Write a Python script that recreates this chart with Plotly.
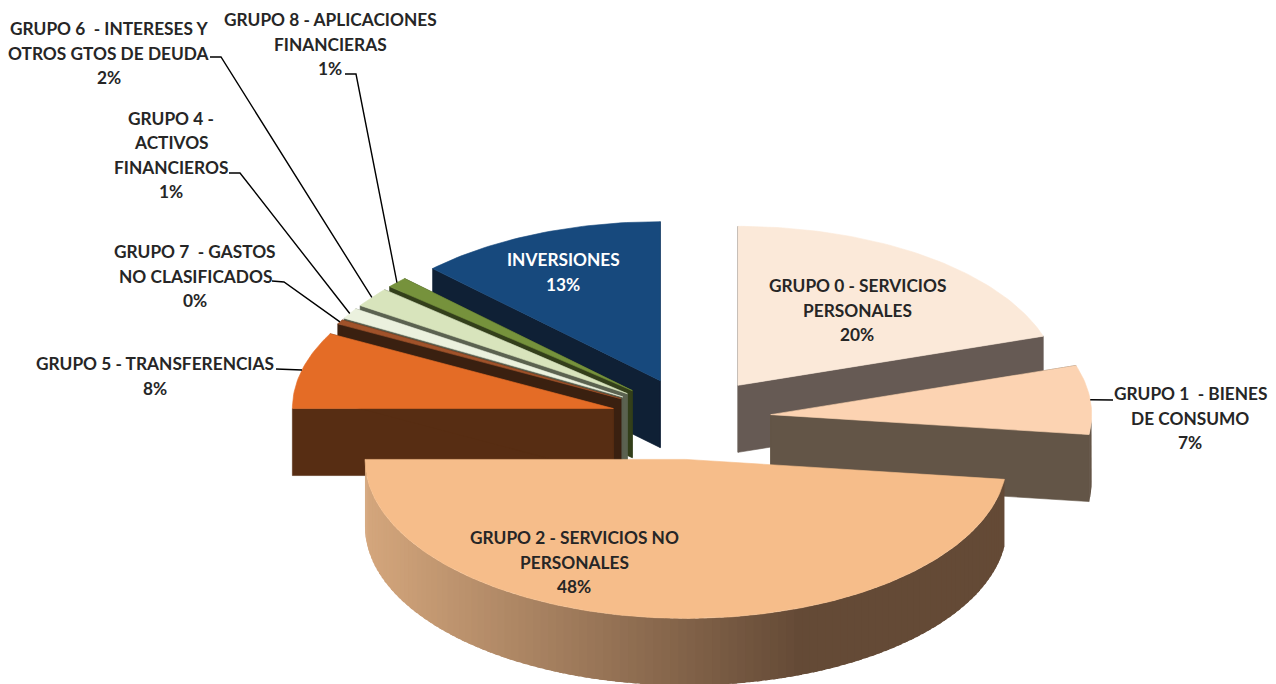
import math
import plotly.graph_objects as go

# --- data ---
categories = ["GRUPO 0 - SERVICIOS PERSONALES", "GRUPO 1  - BIENES DE CONSUMO",
              "GRUPO 2 - SERVICIOS NO PERSONALES", "GRUPO 5 - TRANSFERENCIAS",
              "GRUPO 7  - GASTOS NO CLASIFICADOS", "GRUPO 4 - ACTIVOS FINANCIEROS",
              "GRUPO 6  - INTERESES Y OTROS GTOS DE DEUDA", "GRUPO 8 - APLICACIONES FINANCIERAS",
              "INVERSIONES"]
values = [20, 7, 48, 7.8, 0.45, 1.1, 2, 1.1, 12.55]
label_lines = [["GRUPO 0 - SERVICIOS", "PERSONALES"], ["GRUPO 1  - BIENES", "DE CONSUMO"],
               ["GRUPO 2 - SERVICIOS NO", "PERSONALES"], ["GRUPO 5 - TRANSFERENCIAS"],
               ["GRUPO 7  - GASTOS", "NO CLASIFICADOS"], ["GRUPO 4 -", "ACTIVOS", "FINANCIEROS"],
               ["GRUPO 6  - INTERESES Y", "OTROS GTOS DE DEUDA"], ["GRUPO 8 - APLICACIONES", "FINANCIERAS"],
               ["INVERSIONES"]]

# --- styles and layout ---
top_colors = ["#fbe9d9", "#fcd3b2", "#f6bd8a", "#e46c26", "#a0522a", "#ebf1de", "#d8e4bc", "#76923c", "#17497d"]
side_colors = ["#665a54", "#635547", "#654a36", "#572d13", "#3a2010", "#5a6050", "#5b6250", "#333f1a", "#0f2035"]
paint_order = [8, 7, 6, 5, 4, 3, 0, 1, 2]
label_pos = [(857, 310), (1190, 418), (574, 562), (155, 376), (195, 276), (171, 155), (109, 53), (330, 44), (563, 272)]
elbows = {1: [(1113, 400)], 3: [(276, 369)], 4: [(272, 281), (284, 282)], 5: [(229, 173), (240, 173)],
          6: [(210, 57), (221, 57)], 7: [(345, 74), (356, 74)]}
CX, CY, RX, RY, EXPLODE_X, EXPLODE_Y, DEPTH = 691, 418.5, 321, 159, 80, 41, 67
FONT_SIZE, LINE_STEP = 17.3, 24.4
FRONT_SLICE = 2  # its cut faces are hidden behind its own top


def pt(apex, deg, rx=RX, ry=RY):
    a = math.radians(deg)
    return apex[0] + rx * math.sin(a), apex[1] - ry * math.cos(a)


def poly(fig, pts, color, name, width=0.6):
    xs = [p[0] for p in pts] + [pts[0][0]]
    ys = [p[1] for p in pts] + [pts[0][1]]
    fig.add_trace(go.Scatter(x=xs, y=ys, mode="lines", fill="toself", fillcolor=color,
                             line=dict(color=color, width=width), name=name, hoverinfo="skip", showlegend=False))


def mix(c1, c2, t):
    a = [int(c1[i:i + 2], 16) for i in (1, 3, 5)]
    b = [int(c2[i:i + 2], 16) for i in (1, 3, 5)]
    return "rgb(%d,%d,%d)" % tuple(round(u + (v - u) * t) for u, v in zip(a, b))


# angles come from the values
total = sum(values)
starts, ends = [], []
acc = 0
for v in values:
    starts.append(acc / total * 360)
    acc += v
    ends.append(acc / total * 360)
apexes = []
for s, e in zip(starts, ends):
    apexes.append(pt((CX, CY), (s + e) / 2, EXPLODE_X, EXPLODE_Y))

fig = go.Figure()
for i in paint_order:
    s, e, ap = starts[i], ends[i], apexes[i]
    # cut faces
    if i != FRONT_SLICE:
        for ang in (s, e):
            o = pt(ap, ang)
            poly(fig, [ap, o, (o[0], o[1] + DEPTH), (ap[0], ap[1] + DEPTH)], side_colors[i], categories[i])
    # rim: each strip overlaps the next one so no seams show
    lo, hi = max(s, 90), min(e, 270)
    if hi > lo:
        n = max(1, int((hi - lo) / 1.5))
        step = (hi - lo) / n
        for k in range(n):
            a0 = lo + step * k
            a1 = min(hi, a0 + step * 1.6)
            steps = 4
            arc = [pt(ap, a0 + (a1 - a0) * j / steps) for j in range(steps + 1)]
            mid = pt(ap, a0 + step / 2)
            col = side_colors[i]
            if i == FRONT_SLICE:
                t = min(1, max(0, (800 - mid[0]) / (800 - 363)))
                col = mix("#644a36", "#d5a77d", t)
            poly(fig, arc + [(q[0], q[1] + DEPTH) for q in reversed(arc)], col, categories[i], width=0)
    # top
    n = max(3, int(e - s))
    arc = [pt(ap, s + (e - s) * k / n) for k in range(n + 1)]
    poly(fig, [ap] + arc, top_colors[i], categories[i])

# leader lines
for i, el in elbows.items():
    o = pt(apexes[i], (starts[i] + ends[i]) / 2)
    xs = [p[0] for p in el] + [o[0]]
    ys = [p[1] for p in el] + [o[1]]
    fig.add_trace(go.Scatter(x=xs, y=ys, mode="lines", line=dict(color="#000000", width=1.4),
                             hoverinfo="skip", showlegend=False))

for i, (lines, pos) in enumerate(zip(label_lines, label_pos)):
    rows = lines + ["%d%%" % round(values[i])]
    for k, row in enumerate(rows):
        fig.add_annotation(x=pos[0], y=pos[1] + (k - (len(rows) - 1) / 2) * LINE_STEP, text=row, showarrow=False,
                           xanchor="center", yanchor="middle", align="center",
                           font=dict(family="Lato", size=FONT_SIZE, weight="bold",
                                     color="#ffffff" if i == 8 else "#262626"))

fig.update_layout(width=1276, height=684, autosize=False, margin=dict(l=0, r=0, t=0, b=0),
                  paper_bgcolor="#ffffff", plot_bgcolor="#ffffff", showlegend=False,
                  xaxis=dict(range=[0, 1276], visible=False, fixedrange=True),
                  yaxis=dict(range=[684, 0], visible=False, fixedrange=True))
fig.write_html("out.html", config={"displayModeBar": False},
               post_script="document.body.style.margin='0';document.documentElement.style.overflow='hidden';")
